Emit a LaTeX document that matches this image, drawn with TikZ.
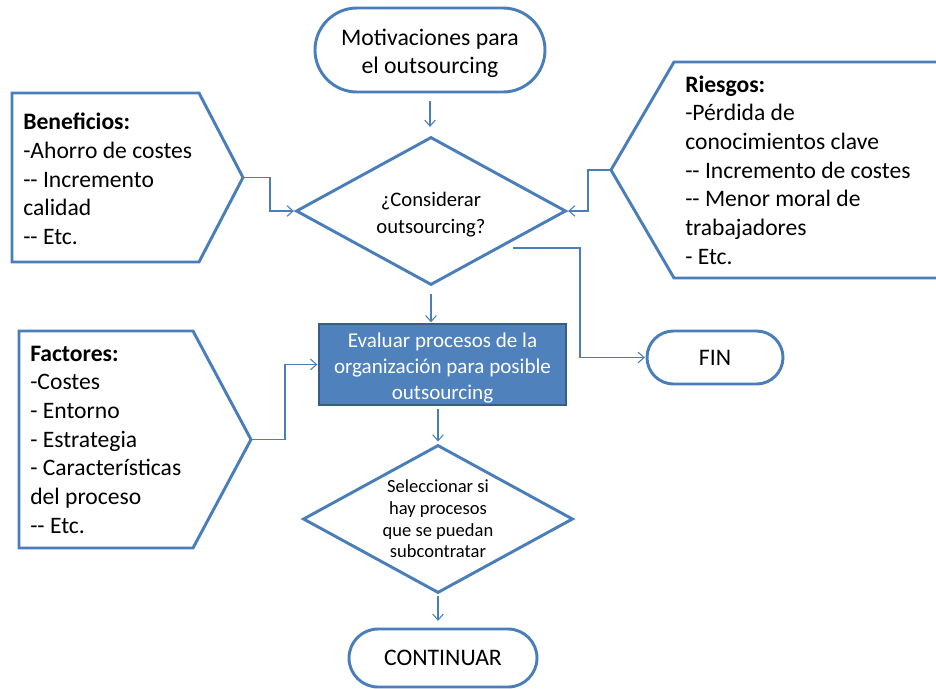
\documentclass[tikz,border=0pt]{standalone}
\usepackage{fontspec}
\setmainfont{Carlito}
\usetikzlibrary{arrows.meta,shapes.geometric,shapes.misc}
\definecolor{edgeblue}{RGB}{74,126,187}
\definecolor{fillblue}{RGB}{79,129,189}
\definecolor{darkblue}{RGB}{56,93,138}
\newcommand{\dd}{-{}-}
\tikzset{
  outline/.style={draw=edgeblue, line width=2.2pt},
  terminal/.style={outline, rounded rectangle, fill=white, inner sep=0pt, align=center},
  decision/.style={outline, diamond, aspect=1.8, inner sep=0pt, align=center,
    minimum width=202.5pt, minimum height=111pt},
  process/.style={rectangle, fill=fillblue, draw=darkblue, line width=1.5pt,
    text=white, align=center, inner sep=0pt},
  conn/.style={draw=edgeblue, line width=0.8pt, -{Straight Barb[length=4.5pt,width=8pt]}},
  notetext/.style={anchor=north west, align=left, inner sep=0pt,
    font={\fontsize{17.7}{21.5}\selectfont}},
  bigfont/.style={font={\fontsize{17.8}{21}\selectfont}},
  label text/.style={align=center, inner sep=0pt},
}
\begin{document}
\begin{tikzpicture}[x=0.75pt, y=-0.75pt]
  \useasboundingbox (0,0) rectangle (936,689);
  \fill[white] (0,0) rectangle (936,689);
  \clip (0,0) rectangle (936,689);

  % side notes (arrow-shaped callouts)
  \draw[outline] (12,93) -- (199,93) -- (243,177.5) -- (199,262) -- (12,262) -- cycle;
  \coordinate (bentip) at (243,177.5);
  \node[notetext] (bentext) at (23,109.5) {\rule{0pt}{15pt}\textbf{Beneficios:}\\-Ahorro de costes\\\dd{} Incremento\\calidad\\\dd{} Etc.};

  \draw[outline] (950,62) -- (674,62) -- (611,170) -- (674,278) -- (950,278);
  \coordinate (riestip) at (611,170);
  \node[notetext] (riestext) at (685,72) {\rule{0pt}{15pt}\textbf{Riesgos:}\\-Pérdida de\\conocimientos clave\\\dd{} Incremento de costes\\\dd{} Menor moral de\\trabajadores\\- Etc.};

  \draw[outline] (19,331) -- (193,331) -- (251,439.5) -- (193,548) -- (19,548) -- cycle;
  \coordinate (factip) at (251,439.5);
  \node[notetext] (factext) at (30,341) {\rule{0pt}{15pt}\textbf{Factores:}\\-Costes\\- Entorno\\- Estrategia\\- Características\\del proceso\\\dd{} Etc.};

  % main flow shapes
  \node[terminal, minimum width=172.5pt, minimum height=63pt] (mot) at (430,50) {};
  \node[label text, bigfont] (mottext) at ([yshift=-2.5pt]mot.center)
    {Motivaciones para\\el outsourcing};
  \node[decision] (d1) at (431,211) {};
  \node[label text, font={\fontsize{15.5}{20}\selectfont}] (d1text) at ([yshift=-2.5pt]d1.center)
    {¿Considerar\\outsourcing?};
  \node[process, minimum width=185.25pt, minimum height=60.75pt] (ev) at (442.5,364.5) {};
  \node[label text, text=white, font={\fontsize{15.8}{19.5}\selectfont}] (evtext) at ([yshift=-2.5pt]ev.center)
    {Evaluar procesos de la\\organización para posible\\outsourcing};
  \node[terminal, bigfont, minimum width=102pt, minimum height=39.75pt] (fin) at (715,357.5) {FIN};
  \node[decision, font={\fontsize{13.9}{16.3}\selectfont}] (d2) at (438,519)
    {Seleccionar si\\hay procesos\\que se puedan\\subcontratar};
  \node[terminal, bigfont, minimum width=141pt, minimum height=43.5pt] (cont) at (443,658) {CONTINUAR};
  \coordinate (noout) at (513,248);

  % connectors
  \draw[conn, shorten <=6pt, shorten >=6.5pt] (mot.south) -- (mot.south |- d1.north);
  \draw[conn, shorten <=6pt, shorten >=0.5pt] (d1.south) -- (d1.south |- ev.north);
  \draw[conn, shorten <=2pt, shorten >=1.5pt] (d2.north |- ev.south) -- (d2.north);
  \draw[conn, shorten <=1.5pt, shorten >=5pt] (d2.south) -- (d2.south |- cont.north);
  \draw[conn, shorten >=0.5pt] (bentip) -- ++(27,0) |- (d1.west);
  \draw[conn, shorten >=0.5pt] (riestip) -- ++(-23,0) |- (d1.east);
  \draw[conn, shorten >=0.5pt] (noout) -- ++(67,0) |- (fin.west);
  \draw[conn, shorten >=0.5pt] (factip) -- ++(34,0) |- (ev.west);
\end{tikzpicture}
\end{document}
